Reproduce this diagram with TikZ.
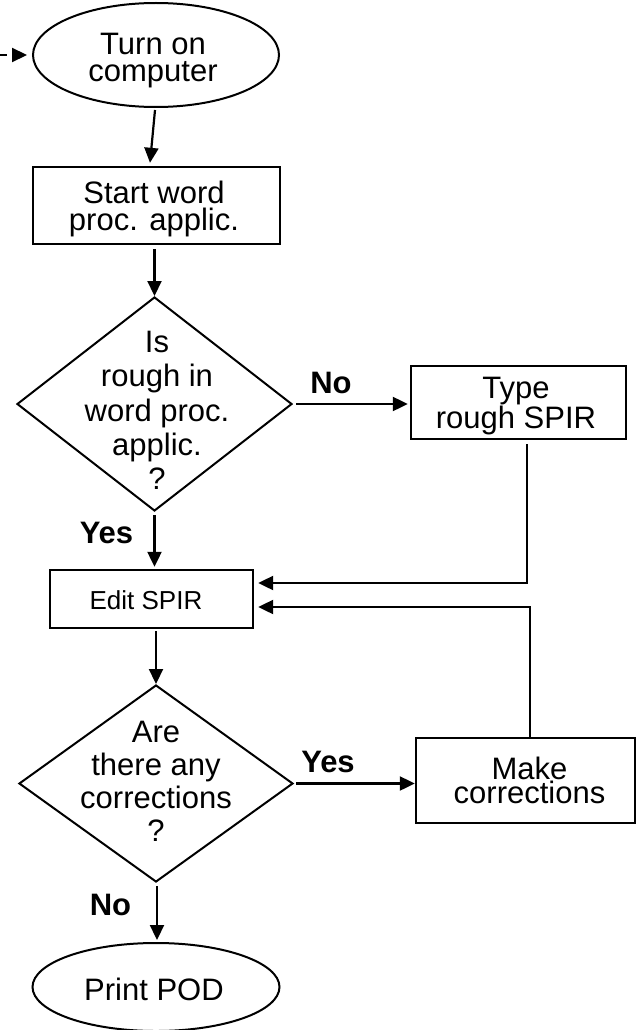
\documentclass[tikz,border=0pt]{standalone}
\usepackage{fontspec}
\setmainfont{Liberation Sans}
\usetikzlibrary{shapes.geometric,arrows.meta,calc}
\begin{document}
\begin{tikzpicture}[x=1pt,y=-1pt,
  box/.style={draw, line width=2.4pt, rectangle, inner sep=0pt},
  dec/.style={draw, line width=2pt, diamond, inner sep=0pt},
  term/.style={draw, line width=2pt, ellipse, inner sep=0pt},
  txt/.style={align=center, inner sep=0pt, font=\fontsize{31}{27}\selectfont},
  dtxt/.style={align=center, inner sep=0pt, font=\fontsize{31}{34.25}\selectfont},
  lbl/.style={inner sep=0pt, anchor=base, font=\fontsize{31}{31}\selectfont\bfseries},
  arr/.style={line width=2.2pt, -{Triangle[length=15pt,width=14pt]}},
]
\useasboundingbox (0,0) rectangle (637,1030);

% shapes
\node[term, minimum width=246pt, minimum height=104pt] (e1) at (156,55) {};
\node[txt] (e1t) at (153,60.7) {Turn on\\computer};
\node[box, minimum width=247pt, minimum height=77pt] (r1) at (156.5,205.5) {};
\node[txt] (r1t) at (154,208.7) {Start word\\proc. applic.};
\node[dec, minimum width=275pt, minimum height=214pt] (d1) at (154.5,404) {};
\node[dtxt] (d1t) at (157,410.5) {Is\\rough in\\word proc.\\applic.\\?};
\node[box, minimum width=215pt, minimum height=73pt] (t1) at (518.5,402.5) {};
\node[txt, font=\fontsize{31}{26}\selectfont] (t1t) at (516,406) {Type\\rough SPIR};
\node[box, minimum width=203pt, minimum height=58pt] (ed) at (151.5,599) {};
\node[inner sep=0pt, font=\fontsize{26}{30}\selectfont] (edt) at (146,599.7) {Edit SPIR};
\node[dec, minimum width=274pt, minimum height=197pt] (d2) at (156,783.5) {};
\node[dtxt, font=\fontsize{31}{33}\selectfont] (d2t) at (156,781.5) {Are\\there any\\corrections\\?};
\node[box, minimum width=219pt, minimum height=85pt] (m1) at (525.5,780.5) {};
\node[txt, font=\fontsize{31}{24}\selectfont] (m1t) at (529.5,780) {Make\\corrections};
\node[term, minimum width=247pt, minimum height=88pt] (e2) at (156,987) {};
\node[txt] (e2t) at (154,989) {Print POD};

% labels
\node[lbl] (no1) at (331,393) {No};
\node[lbl] (yes1) at (106.5,543) {Yes};
\node[lbl] (yes2) at (328,772) {Yes};
\node[lbl] (no2) at (110.5,915) {No};

% connectors
\coordinate (src) at (0,55);
\draw[arr, dash pattern=on 7pt off 10pt, shorten >=5pt] (src) -- (e1.west);
\draw[arr] ([xshift=-1pt,yshift=-2pt]e1.south) -- ([xshift=-6.5pt,yshift=3pt]r1.north);
\draw[arr] ($(d1.north |- r1.south)+(0,4)$) -- (d1.north);
\draw[arr, shorten <=3pt, shorten >=2pt] (d1.east) -- (d1.east -| t1.west);
\coordinate (c1) at (527,583);
\draw[arr, shorten >=4pt] ($(t1.south)+(8.5,4)$) -- (c1) -- (c1 -| ed.east);
\coordinate (c2) at (530,607);
\draw[arr, shorten >=4pt] ($(m1.north)+(4.5,0)$) -- (c2) -- (c2 -| ed.east);
\draw[arr] ($(d1.south)+(0,3)$) -- ($(d1.south |- ed.north)+(0,-2)$);
\draw[arr] ($(d2.north |- ed.south)+(0,2)$) -- (d2.north);
\draw[arr, shorten <=2pt] (d2.east) -- (d2.east -| m1.west);
\draw[arr] ($(d2.south)+(1,3)$) -- ($(d2.south |- e2.north)+(1,-2)$);
\end{tikzpicture}
\end{document}
